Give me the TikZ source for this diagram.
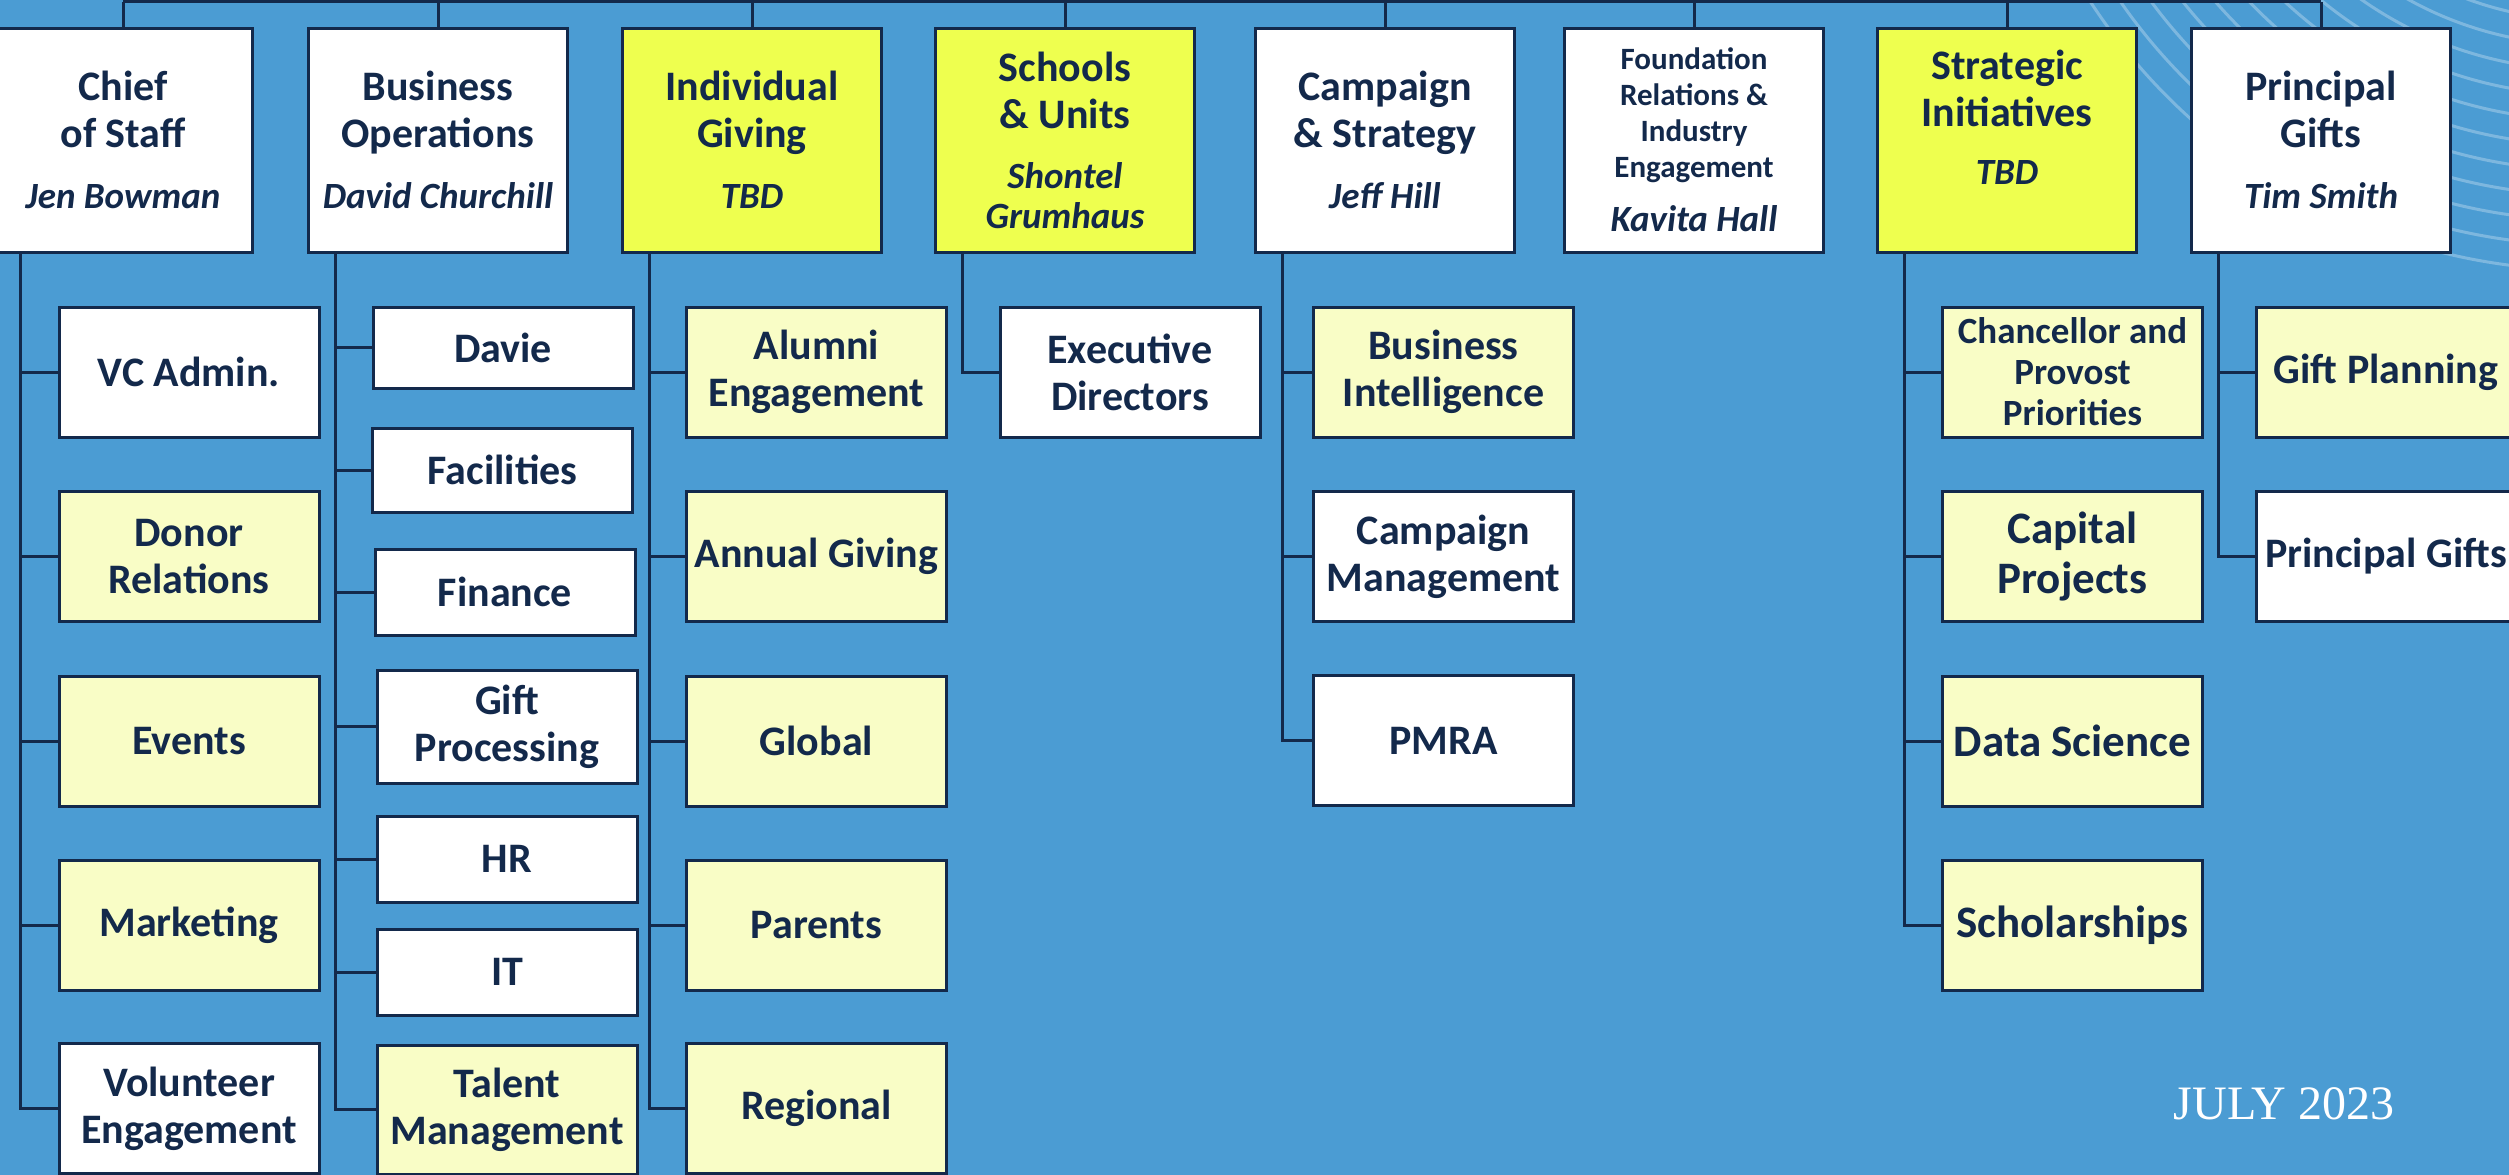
\documentclass[tikz,border=0pt]{standalone}
\usepackage{fontspec}
\setmainfont{Carlito}
\newfontfamily\datefont{Liberation Serif}
\definecolor{bgblue}{HTML}{4B9CD3}
\definecolor{navy}{HTML}{13294B}
\definecolor{brightyel}{HTML}{EEFF4F}
\definecolor{lightyel}{HTML}{F9FDC6}
\newcommand\persname[1]{{\itshape\fontsize{37}{47}\selectfont #1}}
\begin{document}
\begin{tikzpicture}[x=1pt,y=-1pt,
  orgbox/.style={draw=navy, line width=3pt, text=navy, inner sep=0pt, align=center,
    font=\bfseries\fontsize{42}{47}\selectfont},
  topbox/.style={orgbox, minimum width=259pt, minimum height=224pt},
  kid/.style={orgbox, minimum width=260pt, minimum height=130pt},
  wht/.style={fill=white}, ly/.style={fill=lightyel}, by/.style={fill=brightyel},
  conn/.style={draw=navy, line width=3pt},
  decoarc/.style={draw=white, draw opacity=0.28, line width=3pt}]
\useasboundingbox (0,0) rectangle (2509,1175);
\fill[bgblue] (0,0) rectangle (2509,1175);
\foreach \r in {340,365,...,590} \draw[decoarc] (2585,-320) circle[radius=\r];

% top level
\node[topbox,wht] (cos) at (123,140) {Chief\\of Staff\\[14pt]\persname{Jen Bowman}};
\node[topbox,wht] (bo) at (438,140) {Business\\Operations\\[14pt]\persname{David Churchill}};
\node[topbox,by] (ig) at (752,140) {Individual\\Giving\\[14pt]\persname{TBD}};
\node[topbox,by] (su) at (1065,140) {Schools\\\& Units\\[13pt]\persname{Shontel}\\[-7pt]\persname{Grumhaus}};
\node[topbox,wht] (cs) at (1385,140) {Campaign\\\& Strategy\\[14pt]\persname{Jeff Hill}};
\node[topbox,wht,font=\bfseries\fontsize{31}{36}\selectfont] (fr) at (1694,140)
  {Foundation\\Relations \&\\Industry\\Engagement\\[18pt]\persname{Kavita Hall}};
\node[topbox,by] (si) at (2007,140) {};
\node[text=navy, inner sep=0pt, align=center, font=\bfseries\fontsize{42}{47}\selectfont] (sitext) at (2007,117)
  {Strategic\\Initiatives\\[11pt]\persname{TBD}};
\node[topbox,wht] (pg) at (2321,140) {Principal\\Gifts\\[14pt]\persname{Tim Smith}};

% Chief of Staff children
\node[kid,wht] (vc) at (189,372) {VC Admin.};
\node[kid,ly] (dr) at (189,556.5) {Donor\\Relations};
\node[kid,ly] (ev) at (189,741) {Events};
\node[kid,ly] (mk) at (189,925) {Marketing};
\node[kid,wht] (ve) at (189,1108.5) {Volunteer\\Engagement};

% Business Operations children
\node[kid,wht,minimum height=81pt] (davie) at (503,347.5) {Davie};
\node[kid,wht,minimum height=84pt] (fac) at (502.5,470) {Facilities};
\node[kid,wht,minimum height=86pt] (fin) at (505,592) {Finance};
\node[kid,wht,minimum height=113pt] (gp) at (507,726.5) {Gift\\Processing};
\node[kid,wht,minimum height=86pt] (hr) at (507,859) {HR};
\node[kid,wht,minimum height=86pt] (it) at (507,972) {IT};
\node[kid,ly,minimum height=129pt] (tm) at (507,1109.5) {Talent\\Management};

% Individual Giving children
\node[kid,ly] (ae) at (816.5,372) {Alumni\\Engagement};
\node[kid,ly] (ag) at (816.5,556.5) {Annual Giving};
\node[kid,ly] (gl) at (816.5,741) {Global};
\node[kid,ly] (pa) at (816.5,925) {Parents};
\node[kid,ly] (re) at (816.5,1108.5) {Regional};

% Schools & Units child
\node[kid,wht] (ed) at (1130,372) {Executive\\Directors};

% Campaign & Strategy children
\node[kid,ly] (bi) at (1443.5,372) {Business\\Intelligence};
\node[kid,wht] (cm) at (1443.5,556.5) {Campaign\\Management};
\node[kid,wht] (pmra) at (1443.5,740.5) {PMRA};

% Strategic Initiatives children
\node[kid,ly,font=\bfseries\fontsize{37}{41}\selectfont] (cpp) at (2072.5,372) {Chancellor and\\Provost\\Priorities};
\node[kid,ly,font=\bfseries\fontsize{45}{50}\selectfont] (cap) at (2072.5,556.5) {Capital\\Projects};
\node[kid,ly,font=\bfseries\fontsize{45}{50}\selectfont] (ds) at (2072.5,741) {Data Science};
\node[kid,ly,font=\bfseries\fontsize{45}{50}\selectfont] (sch) at (2072.5,925) {Scholarships};

% Principal Gifts children
\node[kid,ly] (gpl) at (2386,372) {Gift Planning};
\node[kid,wht] (pgc) at (2386,556.5) {Principal Gifts};

% top connector line
\coordinate (tl) at (0,1.5);
\draw[conn] (cos.north |- tl) -- (pg.north |- tl);
\foreach \n in {cos,bo,ig,su,cs,fr,si,pg} \draw[conn] (\n.north) -- (\n.north |- tl);

% spines
\foreach \n in {cos,bo,ig,su,cs,si,pg} \coordinate (\n S) at ([xshift=-103pt]\n.south);
\foreach \c in {vc,dr,ev,mk,ve} \draw[conn] (cosS) |- (\c.west);
\foreach \c in {davie,fac,fin,gp,hr,it,tm} \draw[conn] (boS) |- (\c.west);
\foreach \c in {ae,ag,gl,pa,re} \draw[conn] (igS) |- (\c.west);
\draw[conn] (suS) |- (ed.west);
\foreach \c in {bi,cm,pmra} \draw[conn] (csS) |- (\c.west);
\foreach \c in {cpp,cap,ds,sch} \draw[conn] (siS) |- (\c.west);
\foreach \c in {gpl,pgc} \draw[conn] (pgS) |- (\c.west);

\node[text=white, inner sep=0pt, anchor=base, font=\datefont\fontsize{48}{52}\selectfont] (date) at (2284,1119) {JULY 2023};
\end{tikzpicture}
\end{document}
